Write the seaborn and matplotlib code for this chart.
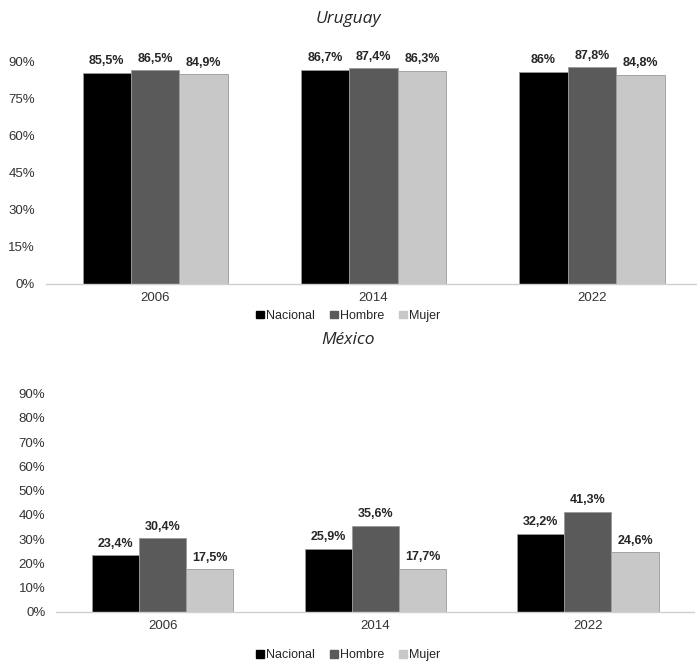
import matplotlib
matplotlib.use('Agg')
import matplotlib.pyplot as plt
import pandas as pd
import seaborn as sns

years = ["2006", "2014", "2022"]
series = ["Nacional", "Hombre", "Mujer"]
uruguay_nacional = [85.5, 86.7, 86.0]
uruguay_hombre = [86.5, 87.4, 87.8]
uruguay_mujer = [84.9, 86.3, 84.8]
mexico_nacional = [23.4, 25.9, 32.2]
mexico_hombre = [30.4, 35.6, 41.3]
mexico_mujer = [17.5, 17.7, 24.6]
labels_uy = [["85,5%", "86,7%", "86%"], ["86,5%", "87,4%", "87,8%"], ["84,9%", "86,3%", "84,8%"]]
labels_mx = [["23,4%", "25,9%", "32,2%"], ["30,4%", "35,6%", "41,3%"], ["17,5%", "17,7%", "24,6%"]]

colors = ["#000000", "#5a5a5a", "#c8c8c8"]


def make_df(nac, hom, muj):
    rows = []
    for s, vals in zip(series, [nac, hom, muj]):
        for y, v in zip(years, vals):
            rows.append({"Año": y, "Serie": s, "Valor": v})
    return pd.DataFrame(rows)


sns.set_theme(style="white")
plt.rcParams['font.family'] = ['Liberation Sans', 'DejaVu Sans']

fig = plt.figure(figsize=(6.97, 6.65), dpi=100)
ax1 = fig.add_axes([0.066, 0.573, 0.94, 0.334])
ax2 = fig.add_axes([0.081, 0.080, 0.915, 0.328])


def draw(ax, df, labels, ticks, title, title_y, leg_y):
    sns.barplot(data=df, x="Año", y="Valor", hue="Serie", palette=colors,
                width=0.665, gap=0, ax=ax, legend=False,
                edgecolor="#9a9a9a", linewidth=0.6)
    for cont, lab in zip(ax.containers, labels):
        ax.bar_label(cont, labels=lab, padding=4, fontsize=9, fontweight='bold')
    ax.set_ylim(0, 90)
    ax.set_yticks(ticks)
    ax.set_yticklabels([f"{t}%" for t in ticks], fontsize=9.5, color="#333333")
    ax.tick_params(axis='x', labelsize=9.5, colors="#333333", length=0, pad=6)
    ax.tick_params(axis='y', length=0, pad=8)
    ax.set_xlim(-0.5, 2.5)
    ax.set_xlabel("")
    ax.set_ylabel("")
    for sp in ["top", "right", "left"]:
        ax.spines[sp].set_visible(False)
    ax.spines["bottom"].set_color("#d0d0d0")
    ax.spines["bottom"].set_linewidth(1.0)
    fig.text(0.5, title_y, title, ha='center', va='center', fontsize=12.5,
             style='italic', family=['Open Sans', 'DejaVu Sans'])
    handles = [plt.Rectangle((0, 0), 1, 1, color=c) for c in colors]
    fig.legend(handles, series, loc='center', bbox_to_anchor=(0.5, leg_y), ncol=3,
               frameon=False, fontsize=9, handlelength=0.6, handleheight=0.6,
               handletextpad=0.2, columnspacing=1.2)


draw(ax1, make_df(uruguay_nacional, uruguay_hombre, uruguay_mujer), labels_uy,
     [0, 15, 30, 45, 60, 75, 90], "Uruguay", 0.972, 0.525)
draw(ax2, make_df(mexico_nacional, mexico_hombre, mexico_mujer), labels_mx,
     list(range(0, 91, 10)), "México", 0.488, 0.015)

fig.savefig("out.png", dpi=100)
